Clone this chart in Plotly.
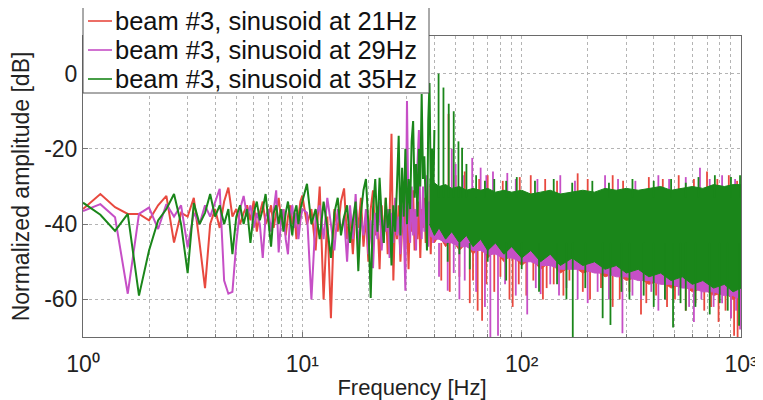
import plotly.graph_objects as go

# ---------------- data ----------------
freq_low = [1.0, 1.2, 1.4, 1.6, 1.8, 2.0, 2.2, 2.4, 2.6, 2.8, 3.0, 3.2, 3.4, 3.6, 3.8,
            4.0, 4.2, 4.4, 4.6, 4.8, 5.0, 5.2, 5.4, 5.6, 5.8, 6.0, 6.2, 6.4, 6.6, 6.8,
            7.0, 7.2, 7.4, 7.6, 7.8, 8.0, 8.2, 8.4, 8.6, 8.8, 9.0, 9.2, 9.4, 9.6, 9.8, 10.0]
freq_mid = [10.5, 11.0, 11.5, 12.0, 12.5, 13.0, 13.5, 14.0, 14.5, 15.0,
            15.5, 16.0, 16.5, 17.0, 17.5, 18.0, 18.5, 19.0, 19.5, 20.0,
            20.5, 21.0, 21.5, 22.0, 22.5, 23.0, 23.5, 24.0, 24.5, 25.0,
            25.5, 26.0, 26.5, 27.0, 27.5, 28.0, 28.5, 29.0, 29.5, 30.0,
            30.5, 31.0, 31.5, 32.0, 32.5, 33.0, 33.5, 34.0, 34.5, 35.0,
            35.5, 36.0, 36.5, 37.0, 37.5, 38.0, 38.5, 39.0, 39.5, 40.0]

red_low = [-36, -32, -35.5, -37.3, -37.3, -39, -35, -32.5, -44.9, -37, -38, -33, -45, -57, -40,
           -36, -41, -34, -30.3, -38, -36, -40, -37, -35, -39, -33.8, -42, -37, -34, -40,
           -38, -35, -41, -37, -33, -39, -36, -43, -38, -35, -40, -37, -44, -38, -34, -32.4]
mag_low = [-36.5, -34.7, -38.2, -58.5, -37.3, -35.6, -41.3, -34.7, -38, -35, -46.2, -37, -40, -35, -38,
           -34, -30.6, -55, -58.5, -58, -45, -36, -32.5, -38, -35, -41, -37, -40, -49, -38,
           -36, -42, -37, -31, -47.5, -39, -36, -44, -48, -38, -35, -41, -37, -44, -39, -36]
grn_low = [-34.3, -37.5, -41.8, -37.3, -59, -47, -39, -36, -32, -40, -53, -34.4, -40, -37, -32,
           -38, -35, -40, -36, -48, -38, -35, -40, -36, -45, -37, -34, -39, -36, -32,
           -39, -46, -37, -35, -40, -36, -42, -37, -34, -39, -43, -37, -35, -40, -36, -34]

red_mid = [-40, -36, -47, -30, -60, -38, -65, -36, -42, -34,
           -30.5, -44, -37, -48, -35, -41, -33, -46, -38, -50,
           -36, -31, -43, -38, -52, -35, -45, -33, -48, -38,
           -16, -55, -37, -44, -35, -50, -39, -33, -46, -37,
           -52, -35, -42, -31, -47, -38, -44, -34, -49, -36,
           -41, -33, -45, -29, -42, -36, -48, -34, -40, -36]
mag_mid = [-37, -60, -38, -35, -44, -33, -40, -47, -36, -42,
           -38, -50, -35, -44, -32, -46, -38, -43, -36, -48,
           -39, -51.7, -37, -44, -34, -47, -39, -42, -36, -49,
           -37, -45, -33, -43, -38, -48, -35, -41, -57.7, -7.3,
           -40, -45, -30, -43, -36, -47, -24, -15, -38, -44,
           -30, -42, -36, -27, -46, -34, -40, -29, -45, -37]
grn_mid = [-29.3, -40, -36, -44, -34, -41, -49, -37, -33, -43,
           -38, -35, -45, -39, -34, -52.5, -37, -31, -28, -40,
           -59.6, -36, -28, -42, -27.7, -38, -45, -33, -41, -36,
           -51, -35, -42, -30, -16.5, -43, -25, -38, -20, -40,
           -28, -36, -18, -12.6, -33, -24, -38, -20, -30, -5.4,
           -28, -22, -34, -47, -12.6, -2.5, -30, -20, -35, -15]

# dense part of the spectrum (38 Hz - 1 kHz): upper / lower edge of the solid band
band_f = [38, 40, 42, 45, 48, 52, 56, 60, 65, 70, 76, 83, 90, 100, 110, 122, 135, 150,
          170, 190, 215, 240, 270, 300, 340, 380, 430, 480, 540, 600, 670, 750, 840, 920, 1000]
grn_hi = [-28, -29, -30, -29.5, -30.5, -30, -31, -30.5, -31, -30.5, -31.5, -31, -31.5, -31, -32, -31.5, -31, -32,
          -31.5, -31, -31.5, -30.5, -31, -30.5, -31, -30.5, -30, -31, -30.5, -30, -30.5, -29.5, -30, -29.5, -29.5]
grn_lo = [-40, -43, -41, -44, -42, -45, -43, -46, -44, -47, -45, -48, -46, -49, -47, -50, -48, -51,
          -49, -51, -50, -52, -51, -53, -52, -54, -53, -55, -54, -56, -55, -57, -56, -58, -57]
red_hi = [-30, -31, -31, -31, -31.5, -31.5, -32, -32, -32, -32, -32.5, -32, -32.5, -32, -33, -32.5, -32, -33,
          -32.5, -32, -32.5, -31.5, -32, -31.5, -32, -31.5, -31, -32, -31.5, -31, -31.5, -30.5, -31, -30.5, -30.5]
red_lo = [-42, -45, -43, -46, -44, -47, -45, -48, -46, -49, -47, -50, -48, -51, -49, -52, -50, -53,
          -51, -53, -52, -54, -53, -55, -54, -56, -55, -57, -56, -58, -57, -59, -58, -60, -59]
mag_hi = [-29.5, -30.5, -31, -30.5, -31.5, -31, -32, -31.5, -32, -31.5, -32.5, -32, -32.5, -32, -33, -32.5, -32, -33,
          -32.5, -32, -32.5, -31.5, -32, -31.5, -32, -31.5, -31, -32, -31.5, -31, -31.5, -30.5, -31, -30.5, -30.5]
mag_lo = [-43, -44, -44, -45, -45, -46, -46, -47, -47, -48, -48, -49, -49, -50, -50, -51, -51, -52,
          -52, -52, -53, -53, -54, -54, -55, -55, -56, -56, -57, -57, -58, -58, -59, -59, -60]

# isolated peaks rising above / notches dropping below the band
up_base, dn_base = -33, -45
red_up_f = [46.4, 50, 55, 64, 70, 82, 98, 110, 128, 145, 180, 200, 260, 290, 380, 440, 520, 610, 700, 780, 880, 960]
red_up_v = [-10.7, -27, -26, -28, -27, -28.5, -27.5, -27, -28, -28.5, -26.5, -28, -27, -28.5, -27.5, -28, -27, -28,
            -26, -28, -27, -28.5]
red_dn_f = [43, 47, 52, 58, 60, 63, 66, 69, 75, 80, 88, 91, 97, 105, 113, 125, 130, 140, 155, 165,
            190, 205, 230, 260, 280, 310, 350, 370, 410, 460, 500, 560, 620, 680, 730, 790, 850, 900, 930, 965]
red_dn_v = [-55, -58, -54, -61, -55, -63, -65.7, -56, -58, -54, -60, -62, -56, -59, -55, -60, -57, -56, -59, -55,
            -58, -60, -57, -62, -60, -58, -64, -61, -59, -62, -60, -63, -61, -63, -62, -66, -63, -65, -69.7, -70]
mag_up_f = [48, 50, 54, 59.5, 65, 69, 74, 86, 94, 118, 150, 175, 240, 275, 330, 420, 470, 560, 650, 720, 820, 940]
mag_up_v = [-20, -24, -27, -22.4, -25, -27, -26, -26.4, -28, -28, -27, -28.5, -27, -28, -28.5, -27, -28, -27.5,
            -25, -28, -27, -28]
mag_dn_f = [42, 46, 49, 52, 55, 62, 68, 72, 78, 84, 94, 106, 116, 122, 135, 148, 160, 180, 200, 222,
            250, 288, 320, 350, 390, 420, 450, 520, 580, 610, 660, 750, 820, 900, 950, 990]
mag_dn_v = [-54, -57.7, -53, -60, -55, -58, -62, -70, -69.7, -56, -59, -64, -57, -58.6, -56, -59, -57, -60, -61, -58,
            -60, -69, -59, -60, -58, -63, -60, -59, -62, -66, -60, -62, -61, -65, -63, -68]
grn_up_f = [41.8, 44, 46.5, 49, 51.5, 53.5, 56, 62, 68, 75, 85, 95, 115, 140, 170, 210, 250, 320, 400, 480,
            560, 640, 760, 900, 990]
grn_up_v = [0.0, -3.7, -8, -10, -18, -19.7, -24, -27, -28.5, -28, -28.5, -27.5, -28.5, -28, -29, -28.5, -29, -28,
            -28.5, -28, -29, -27.5, -27, -27.5, -27]
grn_dn_f = [46, 52, 58, 70, 85, 100, 120, 145, 160, 171, 195, 234, 254, 285, 310, 360, 400, 450, 490, 530,
            560, 620, 720, 800, 870, 980]
grn_dn_v = [-50, -48, -52, -50, -55, -52, -58, -56, -60, -70, -57, -65, -66.8, -58, -60, -59, -62, -60, -67.5, -61,
            -63, -62, -64, -61, -63, -67]

x_tickvals = [1, 10, 100, 1000]
x_ticktext = ["10\u2070", "10\u00b9", "10\u00b2", "10\u00b3"]
y_tickvals = [-60, -40, -20, 0]
y_ticktext = ["-60", "-40", "-20", "0"]

names = ["beam #3, sinusoid at 21Hz", "beam #3, sinusoid at 29Hz", "beam #3, sinusoid at 35Hz"]
colors = ["#e8493f", "#c64fc6", "#1a861a"]

series = [
    (red_low, red_mid, red_hi, red_lo, red_up_f, red_up_v, red_dn_f, red_dn_v),
    (mag_low, mag_mid, mag_hi, mag_lo, mag_up_f, mag_up_v, mag_dn_f, mag_dn_v),
    (grn_low, grn_mid, grn_hi, grn_lo, grn_up_f, grn_up_v, grn_dn_f, grn_dn_v),
]

fig = go.Figure()
for (lo_v, mid_v, hi_b, lo_b, uf, uv, df, dv), name, col in zip(series, names, colors):
    assert len(lo_v) == len(freq_low) and len(mid_v) == len(freq_mid)
    assert len(hi_b) == len(band_f) and len(lo_b) == len(band_f)
    assert len(uf) == len(uv) and len(df) == len(dv)
    fig.add_trace(go.Scatter(x=freq_low + freq_mid, y=lo_v + mid_v, mode="lines", name=name,
                             line=dict(color=col, width=2), showlegend=False))
    fig.add_trace(go.Scatter(x=band_f + band_f[::-1], y=hi_b + lo_b[::-1], mode="lines",
                             fill="toself", fillcolor=col, line=dict(color=col, width=1),
                             name=name, showlegend=False))
    xs, ys = [], []
    for f, v in zip(uf, uv):
        xs += [f, f, None]
        ys += [up_base, v, None]
    for f, v in zip(df, dv):
        xs += [f, f, None]
        ys += [dn_base, v, None]
    fig.add_trace(go.Scatter(x=xs, y=ys, mode="lines", line=dict(color=col, width=1.8),
                             name=name, showlegend=False))

# ---------------- layout ----------------
# the page body has an 8 px default margin, so the figure itself starts at (8, 8)
FONT = "Liberation Sans, Arial, sans-serif"
OFF = 8
W, H = 763 - OFF, 400 - OFF
L, R, T, B = 83 - OFF, 22, 36 - OFF, 63
pw, ph = W - L - R, H - T - B
px = lambda v: (v - OFF - L) / pw          # page pixel -> paper x
py = lambda v: (H - B - (v - OFF)) / ph    # page pixel -> paper y

grid = "#b4b4b4"
minor_vals = [m * d for d in (1, 10, 100) for m in range(2, 10)]
fig.update_layout(
    width=W, height=H, autosize=False,
    margin=dict(l=L, r=R, t=T, b=B, pad=0),
    paper_bgcolor="white", plot_bgcolor="white",
    font=dict(family=FONT, color="#222"),
    showlegend=False,
    xaxis=dict(type="log", range=[0, 3], automargin=False,
               tickvals=x_tickvals, ticktext=x_ticktext,
               tickfont=dict(size=23, family=FONT, color="#222"),
               ticklabeloverflow="allow", ticklabelstandoff=6,
               showgrid=True, gridcolor=grid, griddash="dot", gridwidth=1,
               minor=dict(tickvals=minor_vals, showgrid=True, gridcolor=grid, griddash="dot",
                          ticks="inside", ticklen=3, tickcolor="#777"),
               ticks="inside", ticklen=5, tickcolor="#777",
               showline=True, mirror=True, linecolor="#6a6a6a", linewidth=1,
               zeroline=False,
               title=dict(text="Frequency [Hz]", font=dict(size=22, family=FONT, color="#222"),
                          standoff=4)),
    yaxis=dict(range=[-70, 10], automargin=False, tickvals=y_tickvals, ticktext=y_ticktext,
               tickfont=dict(size=23, family=FONT, color="#222"),
               showgrid=True, gridcolor=grid, griddash="dot", gridwidth=1,
               ticks="inside", ticklen=5, tickcolor="#777",
               showline=True, mirror=True, linecolor="#6a6a6a", linewidth=1,
               zeroline=False,
               title=dict(text="Normalized amplitude [dB]",
                          font=dict(size=23, family=FONT, color="#222"), standoff=8)),
)

# legend box (drawn by hand to match the tight MATLAB legend)
fig.add_shape(type="rect", xref="paper", yref="paper",
              x0=px(83), x1=px(429), y0=py(93), y1=py(1),
              fillcolor="white", line=dict(color="#555", width=1), layer="above")
rows = [21, 50, 79]
for rowy, name, col in zip(rows, names, colors):
    fig.add_shape(type="line", xref="paper", yref="paper",
                  x0=px(88), x1=px(112), y0=py(rowy), y1=py(rowy),
                  line=dict(color=col, width=1.6), layer="above")
    fig.add_annotation(xref="paper", yref="paper", x=px(113), y=py(rowy),
                       xanchor="left", yanchor="middle", showarrow=False,
                       text=name, font=dict(size=25.5, family=FONT, color="#111"))

fig.write_html("out.html")
